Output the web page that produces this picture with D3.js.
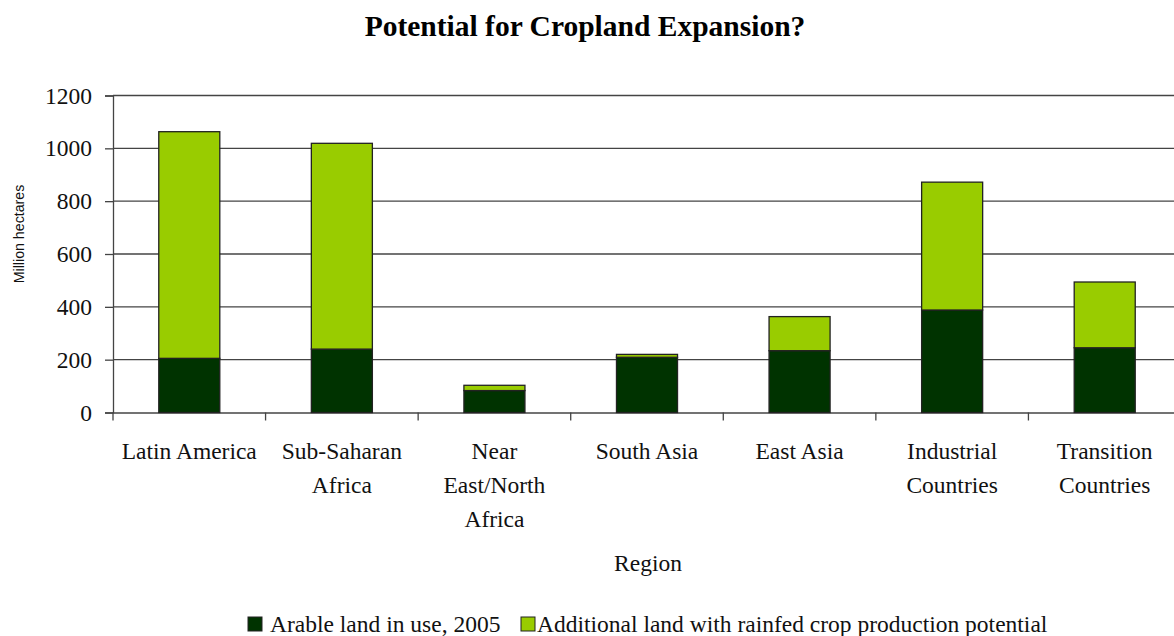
<!DOCTYPE html>
<html><head><meta charset="utf-8">
<script src="https://cdn.jsdelivr.net/npm/d3@7"></script>
<style>body{margin:0;background:#fff;} svg{display:block;}</style>
</head><body>
<svg id="c" width="1174" height="636"></svg>
<script>
const categories = ["Latin America","Sub-Saharan Africa","Near East/North Africa","South Asia","East Asia","Industrial Countries","Transition Countries"];
const categoryLabelLines = [["Latin America"],["Sub-Saharan","Africa"],["Near","East/North","Africa"],["South Asia"],["East Asia"],["Industrial","Countries"],["Transition","Countries"]];
const arableInUse = [205, 240, 83, 209, 234, 388, 245];
const additionalPotential = [858, 779, 20, 11, 129, 484, 249];
const seriesNames = ["Arable land in use, 2005","Additional land with rainfed crop production potential"];
const seriesColors = ["#003300","#99CC00"];
const yTicks = [0,200,400,600,800,1000,1200];

(function(){
const svg = d3.select("#c");
const font = "'Liberation Serif','Times New Roman',serif";
const mLeft = 113, mRight = 1181, mTop = 95.5, mBottom = 412.5;

const x = d3.scaleBand().domain(categories).range([mLeft, mRight]).padding(0);
const y = d3.scaleLinear().domain([0,1200]).range([mBottom, mTop]);

// title
svg.append("text").attr("x",585).attr("y",36).attr("text-anchor","middle")
  .attr("font-family",font).attr("font-weight","bold").attr("font-size",29.5).attr("fill","#000")
  .text("Potential for Cropland Expansion?");

// gridlines
svg.append("g").selectAll("line").data(yTicks.filter(d=>d>0)).join("line")
  .attr("x1",mLeft).attr("x2",1174).attr("y1",d=>y(d)).attr("y2",d=>y(d))
  .attr("stroke","#444").attr("stroke-width",1.3);

// y axis
const yAxis = svg.append("g").attr("transform",`translate(${mLeft},0)`)
  .call(d3.axisLeft(y).tickValues(yTicks).tickSize(8).tickPadding(13).tickFormat(d3.format("d")));
yAxis.select(".domain").attr("stroke","#444").attr("stroke-width",1.3);
yAxis.selectAll(".tick line").attr("stroke","#444").attr("stroke-width",1.3);
yAxis.selectAll("text").attr("font-family",font).attr("font-size",23.5).attr("fill","#111");

// x axis
const xAxis = svg.append("g").attr("transform",`translate(0,${mBottom})`)
  .call(d3.axisBottom(x).tickSize(0).tickFormat(""));
xAxis.select(".domain").attr("stroke","#444").attr("stroke-width",1.3);
xAxis.selectAll(".tick").remove();
svg.append("g").selectAll("line").data(categories).join("line")
  .attr("x1",d=>x(d)).attr("x2",d=>x(d)).attr("y1",mBottom).attr("y2",mBottom+8)
  .attr("stroke","#444").attr("stroke-width",1.3);

// bars
const step = x.step();
const bw = step*0.4;
const stacked = categories.map((c,i)=>({c, segs:[[0,arableInUse[i]],[arableInUse[i],arableInUse[i]+additionalPotential[i]]]}));
const bars = svg.append("g");
stacked.forEach(d=>{
  d.segs.forEach((s,k)=>{
    bars.append("rect").attr("x",x(d.c)+step*0.3).attr("width",bw)
      .attr("y",y(s[1])).attr("height",y(s[0])-y(s[1]))
      .attr("fill",seriesColors[k]).attr("stroke","#222").attr("stroke-width",1.3);
  });
});

// category labels
categories.forEach((c,i)=>{
  const t = svg.append("text").attr("text-anchor","middle").attr("font-family",font)
    .attr("font-size",23.5).attr("fill","#111");
  categoryLabelLines[i].forEach((ln,j)=>{
    t.append("tspan").attr("x",x(c)+step/2).attr("y",459+j*34).text(ln);
  });
});

// axis titles
svg.append("text").attr("transform","translate(24,234) rotate(-90)").attr("text-anchor","middle")
  .attr("font-family","'Liberation Sans Narrow','Liberation Sans',Arial,sans-serif").attr("font-size",14.2).attr("fill","#111").text("Million hectares");
svg.append("text").attr("x",648).attr("y",571).attr("text-anchor","middle")
  .attr("font-family",font).attr("font-size",23.5).attr("fill","#111").text("Region");

// legend
const legendX = [248, 521];
seriesNames.forEach((n,k)=>{
  svg.append("rect").attr("x",legendX[k]).attr("y",617).attr("width",14).attr("height",14)
    .attr("fill",seriesColors[k]).attr("stroke","#222").attr("stroke-width",1);
  svg.append("text").attr("x",legendX[k]+(k===0?22:16)).attr("y",632).attr("font-family",font)
    .attr("font-size",23.5).attr("fill","#111").text(n);
});
})();
</script>
</body></html>
